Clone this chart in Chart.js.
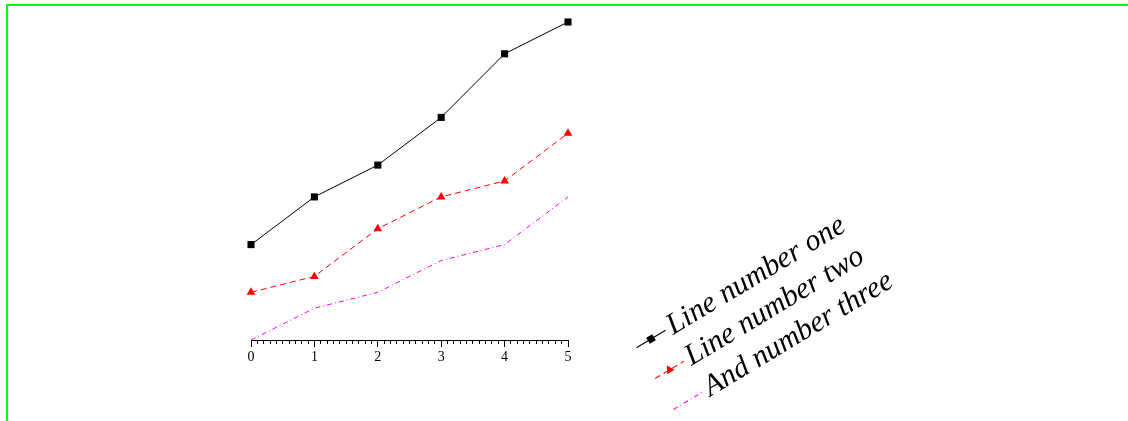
<!DOCTYPE html>
<html>
<head>
<meta charset="utf-8">
<script src="https://cdn.jsdelivr.net/npm/chart.js@4/dist/chart.umd.min.js"></script>
<style>
  html, body { margin: 0; padding: 0; background: #fff; overflow: hidden; }
  #frame { position: absolute; left: 6px; top: 4px; width: 2000px; height: 1000px;
           border-left: 2px solid #00ff00; border-top: 2px solid #00ff00; }
  #chart { position: absolute; left: 0; top: 0; }
</style>
</head>
<body>
<div id="frame"></div>
<canvas id="chart" width="1128" height="421"></canvas>
<script>
// data
const xValues = [0, 1, 2, 3, 4, 5];
const lineOne = [3, 4.5, 5.5, 7, 9, 10];
const lineTwo = [1.5, 2, 3.5, 4.5, 5, 6.5];
const lineThree = [0, 1, 1.5, 2.5, 3, 4.5];
const seriesNames = ['Line number one', 'Line number two', 'And number three'];
const xTickStep = 0.1;   // minor ticks, labels only on whole numbers

function points(ys) {
    return xValues.map((x, i) => ({ x: x, y: ys[i] }));
}

function isWhole(v) {
    return Math.abs(v - Math.round(v)) < 1e-6;
}

// legend drawn at an angle, below right of the plot
const rotatedLegend = {
    id: 'rotatedLegend',
    afterDraw(chart, args, opts) {
        const ctx = chart.ctx;
        ctx.save();
        ctx.translate(opts.x, opts.y);
        ctx.rotate(-opts.angle * Math.PI / 180);
        chart.data.datasets.forEach((ds, i) => {
            const y = i * opts.spacing;
            ctx.save();
            ctx.strokeStyle = ds.borderColor;
            ctx.lineWidth = ds.borderWidth;
            ctx.setLineDash(ds.borderDash || []);
            ctx.beginPath();
            ctx.moveTo(-opts.half, y);
            ctx.lineTo(opts.half, y);
            ctx.stroke();
            ctx.setLineDash([]);
            ctx.fillStyle = ds.borderColor;
            const r = ds.pointRadius;
            if (r > 0 && ds.pointStyle === 'rect') {
                const s = r * Math.SQRT2;
                ctx.fillRect(-s / 2, y - s / 2, s, s);
            } else if (r > 0 && ds.pointStyle === 'triangle') {
                ctx.beginPath();
                ctx.moveTo(0, y - r);
                ctx.lineTo(r * 0.866, y + r / 2);
                ctx.lineTo(-r * 0.866, y + r / 2);
                ctx.closePath();
                ctx.fill();
            }
            ctx.restore();
            ctx.fillStyle = '#000';
            ctx.font = opts.font;
            ctx.textBaseline = 'middle';
            ctx.textAlign = 'left';
            ctx.fillText(ds.label, opts.textX, y);
        });
        ctx.restore();
    }
};

let ctx = document.getElementById('chart');
let chart = new Chart(ctx, {
    type: 'line',
    data: {
        datasets: [{
            label: seriesNames[0],
            data: points(lineOne),
            borderColor: '#000000',
            borderWidth: 1,
            pointStyle: 'rect',
            pointRadius: 5,
            pointBorderWidth: 0,
            pointBackgroundColor: '#000000'
        }, {
            label: seriesNames[1],
            data: points(lineTwo),
            borderColor: '#ff0000',
            borderWidth: 1,
            borderDash: [6, 4],
            pointStyle: 'triangle',
            pointRadius: 5,
            pointBorderWidth: 0,
            pointBackgroundColor: '#ff0000'
        }, {
            label: seriesNames[2],
            data: points(lineThree),
            borderColor: '#ff00ff',
            borderWidth: 1,
            borderDash: [5, 3, 1, 3],
            pointRadius: 0
        }]
    },
    options: {
        responsive: false,
        animation: false,
        devicePixelRatio: 1,
        clip: false,
        layout: {
            padding: { left: 251, right: 560, top: 22, bottom: 51 }
        },
        plugins: {
            legend: { display: false },
            tooltip: { enabled: false },
            rotatedLegend: {
                x: 651, y: 339, angle: 31, spacing: 36, half: 17, textX: 21,
                font: 'italic 30px "Liberation Serif"'
            }
        },
        scales: {
            x: {
                type: 'linear',
                min: 0,
                max: 5,
                afterFit: (s) => { s.height = 30; },
                border: { display: true, color: '#000', width: 1 },
                grid: {
                    drawOnChartArea: false,
                    drawTicks: true,
                    tickLength: 7,
                    tickColor: '#000',
                    tickWidth: 1,
                    tickBorderDash: (c) => (c.tick && isWhole(c.tick.value)) ? [] : [3, 20]
                },
                ticks: {
                    stepSize: xTickStep,
                    maxTicksLimit: 100,
                    autoSkip: false,
                    maxRotation: 0,
                    padding: 2,
                    color: '#000',
                    font: { family: '"Liberation Serif"', size: 14 },
                    callback: (v) => isWhole(v) ? String(Math.round(v)) : ''
                }
            },
            y: {
                display: false,
                min: 0,
                max: 10
            }
        }
    },
    plugins: [rotatedLegend]
});
</script>
</body>
</html>
